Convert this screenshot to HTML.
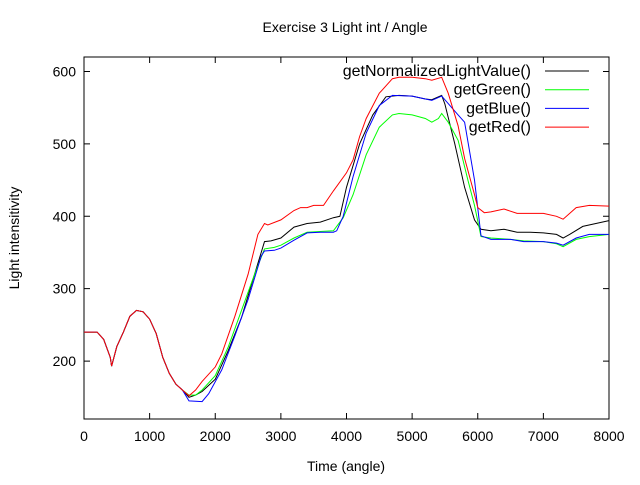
<!DOCTYPE html>
<html><head><meta charset="utf-8"><style>
body{margin:0;background:#fff;width:640px;height:480px;overflow:hidden}
svg{font-family:"Liberation Sans",sans-serif;font-size:14px}
</style></head><body>
<svg id="c" width="640" height="480">
<text x="345" y="32" text-anchor="middle">Exercise 3 Light int / Angle</text>
<text x="346" y="471" text-anchor="middle">Time (angle)</text>
<text transform="translate(19,238) rotate(-90)" text-anchor="middle">Light intensitivity</text>
<g id="plot"></g>
</svg>
<script>
const common = [[0,240],[200,240],[300,230],[400,205],[420,193],[500,220],[600,240],[700,262],[800,270],[900,268],[1000,258],[1100,238],[1200,205],[1300,183],[1400,168],[1500,160]];
const normalized = [[1600,150],[1700,153],[1800,158],[2000,175],[2200,215],[2400,260],[2600,320],[2700,350],[2750,365],[2850,366],[3000,370],[3200,385],[3400,390],[3600,392],[3800,398],[3900,400],[4000,440],[4200,500],[4400,540],[4600,565],[4800,567],[5000,566],[5200,562],[5300,561],[5450,567],[5500,555],[5650,500],[5800,440],[5950,395],[6050,382],[6200,380],[6400,382],[6600,378],[6800,378],[7000,377],[7200,375],[7300,370],[7400,375],[7600,386],[7800,390],[8000,394]];
const green = [[1600,153],[1700,153],[1800,160],[2000,180],[2200,220],[2400,270],[2600,320],[2750,355],[2900,357],[3000,360],[3200,370],[3400,378],[3600,379],[3800,380],[3950,398],[4100,430],[4300,485],[4500,523],[4700,540],[4800,542],[5000,540],[5200,535],[5300,530],[5400,535],[5450,542],[5550,530],[5700,505],[5850,450],[5950,415],[6050,372],[6200,370],[6500,368],[6700,366],[7000,365],[7200,362],[7300,358],[7500,368],[7700,372],[8000,375]];
const blue = [[1600,145],[1800,144],[1900,155],[2100,188],[2300,235],[2500,285],[2700,345],[2750,352],[2900,353],[3000,356],[3200,367],[3400,377],[3600,378],[3800,378],[3850,380],[3950,400],[4100,455],[4300,515],[4500,553],[4700,567],[5000,566],[5300,560],[5450,566],[5700,540],[5800,530],[5950,450],[6050,373],[6200,368],[6500,368],[6700,365],[7000,365],[7200,363],[7300,360],[7500,370],[7700,375],[8000,375]];
const red = [[1600,152],[1700,160],[1800,172],[2000,192],[2100,210],[2300,262],[2500,320],[2650,375],[2750,390],[2800,388],[3000,395],[3200,408],[3300,412],[3400,412],[3500,415],[3650,415],[3800,435],[4000,460],[4100,478],[4200,510],[4300,535],[4500,570],[4700,590],[4800,592],[5000,592],[5200,590],[5300,588],[5450,592],[5550,570],[5700,525],[5800,480],[5950,430],[6000,412],[6100,405],[6200,406],[6400,410],[6600,404],[6800,404],[7000,404],[7200,400],[7300,396],[7500,412],[7700,415],[8000,414]];
const xTicks = [0,1000,2000,3000,4000,5000,6000,7000,8000];
const yTicks = [200,300,400,500,600];
const seriesNames = ["getNormalizedLightValue()","getGreen()","getBlue()","getRed()"];
const seriesColors = ["#000000","#00ff00","#0000ff","#ff0000"];

const L=84,R=609,T=57,B=419,XMIN=0,XMAX=8000,YMIN=120,YMAX=620;
const sx=v=>L+(v-XMIN)/(XMAX-XMIN)*(R-L);
const sy=v=>B-(v-YMIN)/(YMAX-YMIN)*(B-T);
const NS="http://www.w3.org/2000/svg";
const g=document.getElementById('plot');
function mk(tag,attrs){const e=document.createElementNS(NS,tag);for(const k in attrs)e.setAttribute(k,attrs[k]);g.appendChild(e);return e;}
const frame=mk('rect',{x:L,y:T,width:R-L,height:B-T,fill:'none',stroke:'#000','stroke-width':1});


xTicks.forEach(t=>{
  const x=sx(t);
  const l=mk('path',{d:`M${x},${B}v-6M${x},${T}v6`,stroke:'#000'});
  
  
  const tx=mk('text',{x:x,y:B+22,'text-anchor':'middle'});tx.textContent=t;
  
  
});
yTicks.forEach(t=>{
  const y=sy(t);
  const l=mk('path',{d:`M${L},${y}h6M${R},${y}h-6`,stroke:'#000'});
  
  
  const tx=mk('text',{x:L-8,y:y+5,'text-anchor':'end'});tx.textContent=t;
  
  
});
const series=[normalized,green,blue,red];
series.forEach((s,i)=>{
  const pts=common.concat(s);
  const p=mk('polyline',{points:pts.map(d=>sx(d[0]).toFixed(1)+','+sy(d[1]).toFixed(1)).join(' '),fill:'none',stroke:seriesColors[i],'stroke-width':1});
  
  
  const ly=71+i*18.7;
  const tx=mk('text',{x:531,y:ly+5,'text-anchor':'end','font-size':'16px'});tx.textContent=seriesNames[i];
  
  
  const ll=mk('line',{x1:545,x2:589,y1:ly,y2:ly,stroke:seriesColors[i]});
  
  
});
</script>
</body></html>
